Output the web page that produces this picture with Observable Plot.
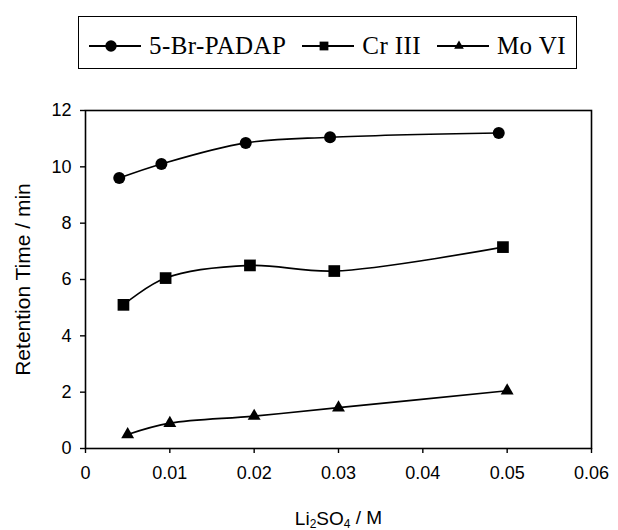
<!DOCTYPE html>
<html>
<head>
<meta charset="utf-8">
<script src="https://cdn.jsdelivr.net/npm/d3@7"></script>
<script src="https://cdn.jsdelivr.net/npm/@observablehq/plot@0.6"></script>
<style>
  html, body { margin: 0; padding: 0; background: #fff; }
  #wrap { position: relative; width: 618px; height: 530px; overflow: hidden; }
  #chart { position: absolute; left: 0; top: 0; }
  #legend {
    position: absolute; left: 78px; top: 16px; width: 497px; height: 45px;
    border: 1.6px solid #000; background: #fff;
    font-family: "Liberation Serif", "Times New Roman", serif; font-size: 25px; color: #000;
    display: flex; align-items: center; padding-top: 6px; box-sizing: content-box;
  }
  .item { display: flex; align-items: center; }
  .item svg { display: block; margin-right: 8px; }
  .item span { letter-spacing: 0.4px; white-space: nowrap; }
</style>
</head>
<body>
<div id="wrap">
  <div id="chart"></div>
  <div id="legend"></div>
</div>
<script>
// Series names (legend)
const series = ["5-Br-PADAP", "Cr III", "Mo VI"];
const symbols = ["circle", "square", "triangle"];

// 5-Br-PADAP
const xPadap = [0.004, 0.009, 0.019, 0.029, 0.049];
const yPadap = [9.6, 10.1, 10.85, 11.05, 11.2];
// Cr III
const xCr = [0.0045, 0.0095, 0.0195, 0.0295, 0.0495];
const yCr = [5.1, 6.05, 6.5, 6.3, 7.15];
// Mo VI
const xMo = [0.005, 0.01, 0.02, 0.03, 0.05];
const yMo = [0.5, 0.9, 1.15, 1.45, 2.05];

// Axis ticks
const xTicks = [0, 0.01, 0.02, 0.03, 0.04, 0.05, 0.06];
const yTicks = [0, 2, 4, 6, 8, 10, 12];

const xs = [xPadap, xCr, xMo];
const ys = [yPadap, yCr, yMo];
const data = series.flatMap((s, i) => xs[i].map((x, j) => ({series: s, x, y: ys[i][j]})));
const bySeries = s => data.filter(d => d.series === s);

const dotR = {"circle": 6, "square": 6.6, "triangle": 4.8};

const chart = Plot.plot({
  width: 618,
  height: 530,
  marginLeft: 85,
  marginRight: 27,
  marginTop: 110,
  marginBottom: 82,
  style: {fontFamily: "'Liberation Sans', Arial, sans-serif", fontSize: "18px", color: "#000", background: "#fff", overflow: "visible"},
  x: {domain: [0, 0.06]},
  y: {domain: [0, 12]},
  marks: [
    Plot.frame({stroke: "#000", strokeWidth: 1.6}),
    Plot.axisX({ticks: xTicks, tickSize: 5, tickPadding: 13, strokeWidth: 1.4,
      tickFormat: d => d === 0 ? "0" : d.toFixed(2),
      label: "Li2SO4 / M", labelAnchor: "center", labelArrow: "none", labelOffset: 76}),
    Plot.axisY({ticks: yTicks, tickSize: 5, tickPadding: 9, strokeWidth: 1.4,
      label: "Retention Time / min", labelAnchor: "center", labelArrow: "none", labelOffset: 70}),
    Plot.line(data, {x: "x", y: "y", z: "series", curve: "catmull-rom", stroke: "#000", strokeWidth: 1.6}),
    ...series.map((s, i) => Plot.dot(bySeries(s), {x: "x", y: "y", symbol: symbols[i], r: dotR[symbols[i]], fill: "#000", stroke: "none"}))
  ]
});
document.getElementById("chart").appendChild(chart);

// Axis label styling: larger font, chemical subscripts
const xl = chart.querySelector('[aria-label="x-axis label"] text');
if (xl) {
  xl.parentNode.setAttribute("font-size", 19);
  xl.textContent = "";
  const parts = [["Li", false], ["2", true], ["SO", false], ["4", true], [" / M", false]];
  for (const [t, sub] of parts) {
    const ts = document.createElementNS("http://www.w3.org/2000/svg", "tspan");
    ts.textContent = t;
    if (sub) { ts.setAttribute("font-size", 12); ts.setAttribute("dy", "0.3em"); }
    else if (t !== "Li") { ts.setAttribute("dy", "-0.19em"); }
    xl.appendChild(ts);
  }
}
const yl = chart.querySelector('[aria-label="y-axis label"]');
if (yl) yl.setAttribute("font-size", 21);

// Legend
const legend = d3.select("#legend");
series.forEach((s, i) => {
  const item = legend.append("div").attr("class", "item")
    .style("margin-left", i === 0 ? "10px" : "16px");
  const sv = item.append("svg").attr("width", 52).attr("height", 16);
  sv.append("line").attr("x1", 0).attr("x2", 52).attr("y1", 8).attr("y2", 8)
    .attr("stroke", "#000").attr("stroke-width", 1.8);
  const r = dotR[symbols[i]] * (i === 0 ? 0.95 : 0.75);
  const sym = {circle: d3.symbolCircle, square: d3.symbolSquare, triangle: d3.symbolTriangle}[symbols[i]];
  sv.append("path").attr("transform", "translate(22,8)")
    .attr("d", d3.symbol(sym, Math.PI * r * r)()).attr("fill", "#000");
  item.append("span").text(s);
});
</script>
</body>
</html>
